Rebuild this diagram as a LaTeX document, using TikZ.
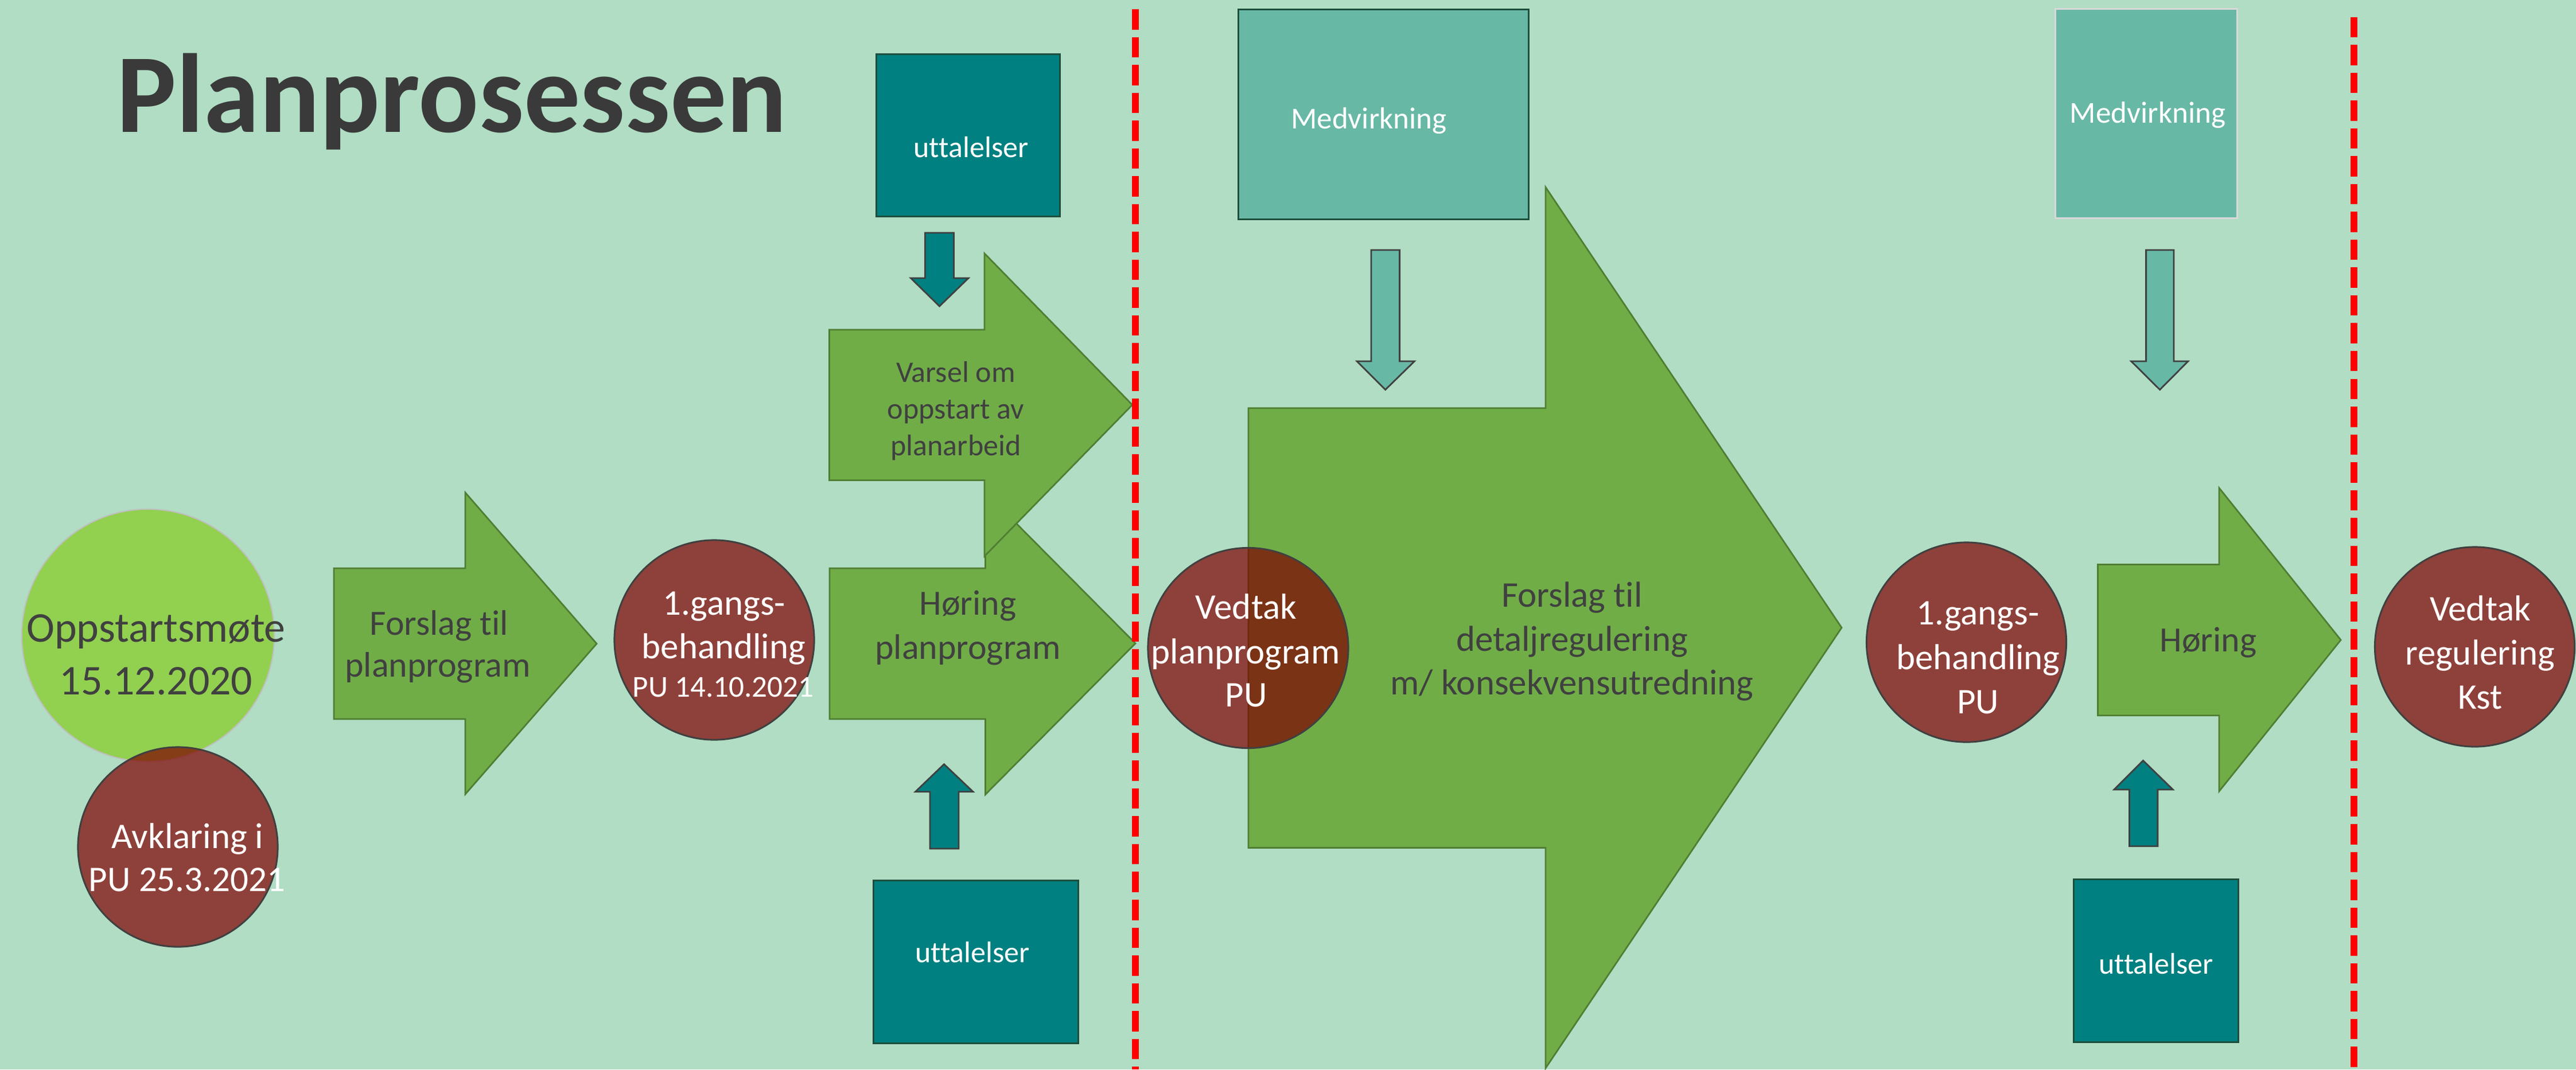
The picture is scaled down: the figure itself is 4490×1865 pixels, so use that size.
\documentclass[tikz,border=0pt]{standalone}
\usepackage{graphicx}
\usepackage{fontspec}
\setmainfont{Carlito}[Ligatures=NoCommon]
\definecolor{bgc}{RGB}{176,221,196}
\definecolor{agreen}{RGB}{112,173,71}
\definecolor{agreenedge}{RGB}{80,126,50}
\definecolor{lgreen}{RGB}{146,208,80}
\definecolor{maroonc}{RGB}{128,0,0}
\definecolor{tealc}{RGB}{0,128,128}
\definecolor{tealedge}{RGB}{30,78,60}
\definecolor{medc}{RGB}{104,184,166}
\definecolor{txt}{RGB}{64,64,64}
\definecolor{edgegray}{RGB}{64,64,64}
\definecolor{titlec}{RGB}{58,58,58}
\tikzset{
  tx/.style={inner sep=0pt, outer sep=0pt, anchor=base},
  darktx/.style={tx, text=txt},
  whitetx/.style={tx, text=white},
  fsA/.style={font=\fontsize{17.9pt}{21.8pt}\selectfont},
  fsB/.style={font=\fontsize{17.6pt}{21.5pt}\selectfont},
  fsC/.style={font=\fontsize{14.8pt}{18pt}\selectfont},
  fsD/.style={font=\fontsize{15.1pt}{18.4pt}\selectfont},
  fsE/.style={font=\fontsize{21pt}{25.6pt}\selectfont},
  garrow/.style={fill=agreen, draw=agreenedge, line width=0.8pt, line join=miter},
  smallarrow/.style={draw=edgegray, line width=0.8pt, line join=miter},
  redc/.style={circle, inner sep=0pt, outer sep=0pt, minimum size=3.48cm,
    fill=maroonc, fill opacity=0.7, draw=edgegray, draw opacity=1, line width=0.85pt},
  lgc/.style={circle, inner sep=0pt, outer sep=0pt, minimum size=4.4cm,
    fill=lgreen, draw=black!25, line width=0.6pt},
  tealbox/.style={rectangle, inner sep=0pt, outer sep=0pt, fill=tealc, draw=tealedge, line width=0.85pt},
  medbox/.style={rectangle, inner sep=0pt, outer sep=0pt, fill=medc, line width=0.85pt},
  reddash/.style={draw=red, line width=3.27pt, dash pattern=on 10.1pt off 3.7pt, line cap=butt}
}
\begin{document}
\begin{tikzpicture}[x=0.01cm, y=-0.01cm]
\useasboundingbox (0,0) rectangle (4490,1865);
\fill[bgc] (0,0) rectangle (4490,1865);

% Title
\node[anchor=base west, inner sep=0pt, outer sep=0pt, text=titlec] (title) at (203,230)
  {\resizebox{11.68cm}{!}{\fontsize{55.7pt}{66pt}\selectfont\bfseries Planprosessen}};

% Oppstart + Avklaring
\node[lgc] (oppC) at (258,1108) {};
\node[redc] (avkC) at (310,1477) {};
\node[darktx, fsE] (opp1) at (272,1119) {Oppstartsmøte};
\node[darktx, fsE] (opp2) at (272,1211) {15.12.2020};
\node[whitetx, fsA] (avk1) at (327,1479) {Avklaring i};
\node[whitetx, fsA] (avk2) at (326,1554) {PU 25.3.2021};

% Forslag til planprogram
\draw[garrow] (582,991) -- (811,991) -- (811,859) -- (1040,1122.5) -- (811,1385) -- (811,1254) -- (582,1254) -- cycle;
\node[darktx, fsB] (fp1) at (765,1107) {Forslag til};
\node[darktx, fsB] (fp2) at (763,1180) {planprogram};

% 1.gangs-behandling
\node[redc] (g1C) at (1245,1116) {};
\node[whitetx, fsA] (g1a) at (1262,1072) {1.gangs-};
\node[whitetx, fsA] (g1b) at (1261.5,1148) {behandling};
\node[whitetx, fsD] (g1c) at (1260.5,1215) {PU 14.10.2021};

% Høring planprogram (lower) and Varsel (upper)
\draw[garrow] (1446,991) -- (1717.5,991) -- (1717.5,858.5) -- (1979,1122) -- (1717.5,1385.5) -- (1717.5,1254) -- (1446,1254) -- cycle;
\node[darktx, fsB] (hp1) at (1687,1072.5) {Høring};
\node[darktx, fsB] (hp2) at (1687,1149) {planprogram};
\draw[garrow] (1445.5,575) -- (1716,575) -- (1716,442) -- (1973.6,706) -- (1716,970) -- (1716,837.5) -- (1445.5,837.5) -- cycle;
\node[darktx, fsC] (va1) at (1666,666.5) {Varsel om};
\node[darktx, fsC] (va2) at (1666,730) {oppstart av};
\node[darktx, fsC] (va3) at (1666,794) {planarbeid};

% uttalelser boxes + small arrows (section 1)
\node[tealbox, minimum width=3.201cm, minimum height=2.832cm] (u1) at (1687.75,236) {};
\node[whitetx, fsC] (u1t) at (1692.5,274) {uttalelser};
\draw[smallarrow, fill=tealc] (1612.5,406) -- (1662.5,406) -- (1662.5,485) -- (1688,485) -- (1637.5,534) -- (1587.5,485) -- (1612.5,485) -- cycle;
\draw[smallarrow, fill=tealc] (1621,1480) -- (1671,1480) -- (1671,1380.7) -- (1696,1380.7) -- (1645.5,1332.7) -- (1595.5,1380.7) -- (1621,1380.7) -- cycle;
\node[tealbox, minimum width=3.56cm, minimum height=2.83cm] (u2) at (1701,1677.5) {};
\node[whitetx, fsC] (u2t) at (1695,1678.6) {uttalelser};

% dashed line 1
\coordinate (d1t) at (1979,16);
\coordinate (d1b) at (1979,1865);
\draw[reddash] (d1t) -- (d1b);

% Big arrow
\draw[garrow] (2176,711.7) -- (2694,711.7) -- (2694,326.5) -- (3210,1094.6) -- (2694,1862.7) -- (2694,1478.5) -- (2176,1478.5) -- cycle;
\node[darktx, fsA] (fd1) at (2740,1058) {Forslag til};
\node[darktx, fsA] (fd2) at (2740,1135.7) {detaljregulering};
\node[darktx, fsA] (fd3) at (2740,1211.6) {m/ konsekvensutredning};

% Vedtak planprogram
\node[redc, minimum size=3.49cm] (vpC) at (2175.5,1130) {};
\node[whitetx, fsA] (vp1) at (2172,1079) {Vedtak};
\node[whitetx, fsA] (vp2) at (2171,1157) {planprogram};
\node[whitetx, fsA] (vp3) at (2172,1232) {PU};

% Medvirkning 1
\node[medbox, draw=tealedge, minimum width=5.05cm, minimum height=3.664cm] (m1) at (2411.5,199.5) {};
\node[whitetx, fsD] (m1t) at (2386,224.5) {Medvirkning};
\draw[smallarrow, fill=medc] (2390,436) -- (2439.6,436) -- (2439.6,630) -- (2465.4,630) -- (2414.7,679.6) -- (2365,630) -- (2390,630) -- cycle;

% Medvirkning 2
\node[medbox, draw=black!15, minimum width=3.167cm, minimum height=3.647cm] (m2) at (3741.35,197.65) {};
\node[whitetx, fsD] (m2t) at (3743.7,214) {Medvirkning};
\draw[smallarrow, fill=medc] (3740.6,436) -- (3789,436) -- (3789,630) -- (3813.8,630) -- (3764.6,679.6) -- (3714.7,630) -- (3740.6,630) -- cycle;

% 1.gangs-behandling PU
\node[redc] (g2C) at (3427.5,1120) {};
\node[whitetx, fsA] (g2a) at (3447.6,1089) {1.gangs-};
\node[whitetx, fsA] (g2b) at (3448,1167) {behandling};
\node[whitetx, fsA] (g2c) at (3447.6,1244) {PU};

% Høring
\draw[garrow] (3656.6,984.5) -- (3868,984.5) -- (3868,851) -- (4080,1116) -- (3868,1379.8) -- (3868,1247.8) -- (3656.6,1247.8) -- cycle;
\node[darktx, fsB] (h2) at (3849,1136.8) {Høring};

% uttalelser 2
\draw[smallarrow, fill=tealc] (3711.5,1475.7) -- (3760.8,1475.7) -- (3760.8,1376.9) -- (3787.3,1376.9) -- (3735.5,1326.4) -- (3685,1376.9) -- (3711.5,1376.9) -- cycle;
\node[tealbox, minimum width=2.867cm, minimum height=2.835cm] (u3) at (3757.65,1675.75) {};
\node[whitetx, fsC] (u3t) at (3758,1698.3) {uttalelser};

% dashed line 2
\coordinate (d2t) at (4103,29.6);
\coordinate (d2b) at (4103,1865);
\draw[reddash] (d2t) -- (d2b);

% Vedtak regulering
\node[redc] (vrC) at (4313.5,1128) {};
\node[whitetx, fsA] (vr1) at (4323,1082.4) {Vedtak};
\node[whitetx, fsA] (vr2) at (4322.8,1159.7) {regulering};
\node[whitetx, fsA] (vr3) at (4323,1236) {Kst};
\end{tikzpicture}
\end{document}
